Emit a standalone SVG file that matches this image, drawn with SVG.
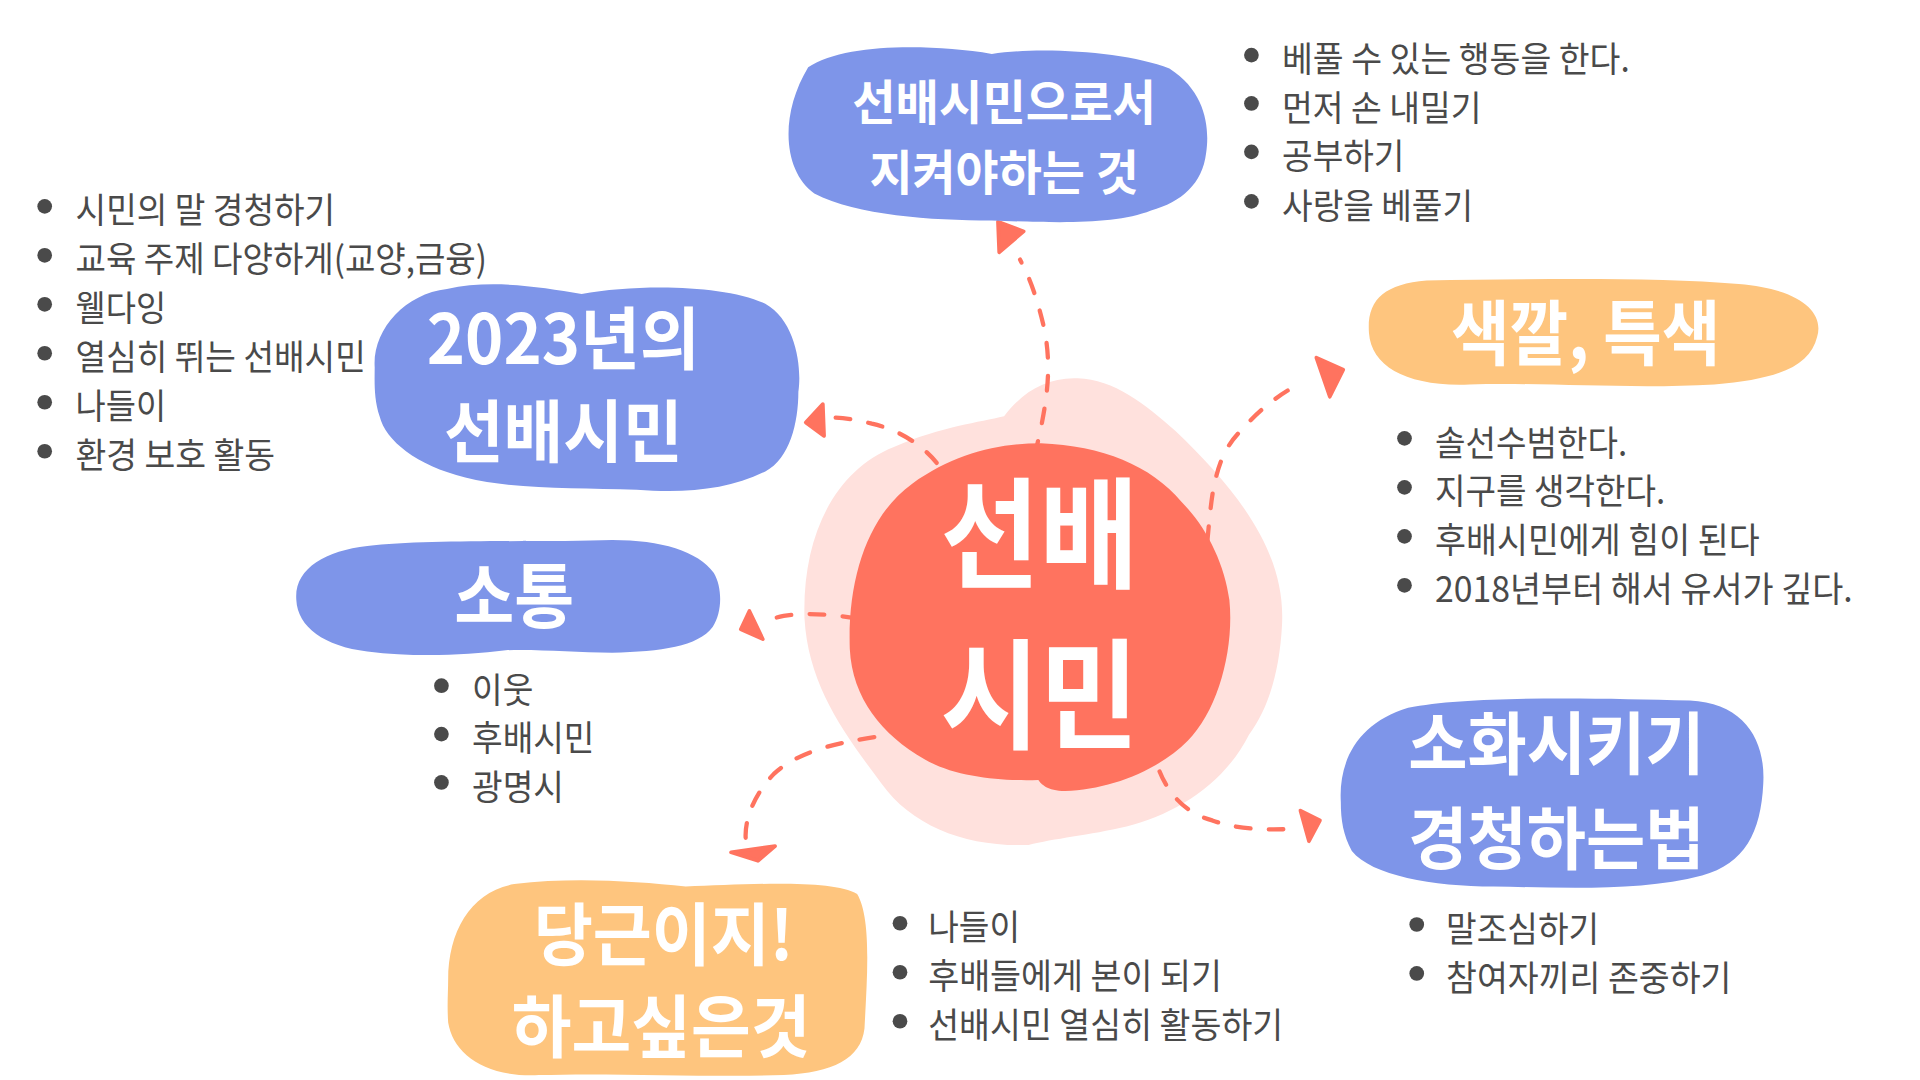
<svg xmlns="http://www.w3.org/2000/svg" width="1920" height="1080" viewBox="0 0 1920 1080">
<style>
.blue{fill:#7E95E9}
.orange{fill:#FEC57E}
.title{font-family:"Noto Sans CJK KR","Noto Sans",sans-serif;font-weight:700;fill:#FFFFFF;text-anchor:middle}
.item{font-family:"Noto Sans CJK KR","Noto Sans",sans-serif;font-weight:400;font-size:29px;fill:#4A4A4A}
.dot{fill:#4A4A4A}
.conn{fill:none;stroke:#FF735F;stroke-width:3.5;stroke-dasharray:12 15;stroke-linecap:round}
.head{fill:#FF735F;stroke:#FF735F;stroke-width:3;stroke-linejoin:round}
</style>
<rect width="1920" height="1080" fill="#FFFFFF"/>
<g transform="scale(1.22449)">
<g id="center-bg">
<path d="M 657,505 C 655,440 680,385 730,365 C 770,348 800,345 820,340 C 835,320 855,308 880,309 C 910,310 935,330 960,352 C 1010,400 1050,450 1047,510 C 1045,550 1035,580 1020,600 C 1000,640 960,665 920,675 C 890,682 860,685 840,690 C 790,692 745,675 720,640 C 690,600 660,560 657,505 Z" fill="#FFE1DD"/>
</g>
<g id="connectors">
<path class="conn" d="M 845,372 C 855,330 860,300 852,265 C 846,240 840,225 833,212"/>
<polygon class="head" points="815,181 836,189 816,206"/>
<path class="conn" d="M 765,378 C 750,360 730,350 712,346 C 700,343 690,341 680,341"/>
<polygon class="head" points="672,330 658,345 673,356"/>
<path class="conn" d="M 986,442 C 988,420 990,400 993,390 C 998,370 1005,360 1015,350 C 1030,333 1045,322 1062,313"/>
<polygon class="head" points="1075,292 1097,302 1086,324"/>
<path class="conn" d="M 700,505 C 680,502 660,500 640,503 C 635,504 632,505 628,506"/>
<polygon class="head" points="612,499 605,514 623,522"/>
<path class="conn" d="M 714,602 C 680,607 650,615 632,632 C 615,650 608,670 609,685"/>
<polygon class="head" points="597,696 633,691 619,703"/>
<path class="conn" d="M 947,630 C 955,650 970,665 990,670 C 1010,677 1030,678 1055,677"/>
<polygon class="head" points="1062,662 1078,670 1069,687"/>
</g>
<g id="center">
<path d="M 694,530 C 692,470 710,420 745,395 C 780,370 815,362 850,362 C 900,364 940,380 965,410 C 985,430 1000,460 1004,490 C 1008,530 995,580 970,605 C 945,630 905,645 870,646 C 855,646 850,640 848,637 C 820,638 780,635 755,620 C 720,600 696,570 694,530 Z" fill="#FF735F"/>
<text class="title" x="849" y="473" font-size="98" textLength="162" lengthAdjust="spacingAndGlyphs">선배</text>
<text class="title" x="849" y="604" font-size="98" textLength="162" lengthAdjust="spacingAndGlyphs">시민</text>
</g>
<g id="node-duty">
<path class="blue" d="M 660,55 C 690,35 760,36 810,44 C 850,38 920,42 955,56 C 985,75 988,105 985,125 C 982,150 965,165 940,172 C 910,184 860,182 810,180 C 760,180 700,176 665,158 C 640,140 636,95 660,55 Z"/>
<text class="title" x="820" y="98" font-size="39" textLength="248" lengthAdjust="spacingAndGlyphs">선배시민으로서</text>
<text class="title" x="820" y="155" font-size="39" textLength="220" lengthAdjust="spacingAndGlyphs">지켜야하는 것</text>
<circle class="dot" cx="1022" cy="45" r="6"/>
<text class="item" x="1047" y="59" textLength="284" lengthAdjust="spacingAndGlyphs">베풀 수 있는 행동을 한다.</text>
<circle class="dot" cx="1022" cy="84.5" r="6"/>
<text class="item" x="1047" y="98.5" textLength="163" lengthAdjust="spacingAndGlyphs">먼저 손 내밀기</text>
<circle class="dot" cx="1022" cy="124" r="6"/>
<text class="item" x="1047" y="138" textLength="100" lengthAdjust="spacingAndGlyphs">공부하기</text>
<circle class="dot" cx="1022" cy="164.5" r="6"/>
<text class="item" x="1047" y="178.5" textLength="156" lengthAdjust="spacingAndGlyphs">사랑을 베풀기</text>
</g>
<g id="node-2023">
<path class="blue" d="M 306,300 C 304,270 330,240 365,236 C 400,228 440,234 475,240 C 520,232 590,232 625,248 C 650,262 655,300 652,320 C 652,345 645,375 625,385 C 595,400 560,403 520,400 C 470,398 420,400 380,390 C 340,380 315,360 310,340 C 305,325 306,310 306,300 Z"/>
<text class="title" x="460" y="297" font-size="56" textLength="223" lengthAdjust="spacingAndGlyphs">2023년의</text>
<text class="title" x="460" y="373" font-size="56" textLength="195" lengthAdjust="spacingAndGlyphs">선배시민</text>
<circle class="dot" cx="36.5" cy="168.5" r="6"/>
<text class="item" x="61.7" y="182.5" textLength="212" lengthAdjust="spacingAndGlyphs">시민의 말 경청하기</text>
<circle class="dot" cx="36.5" cy="208.5" r="6"/>
<text class="item" x="61.7" y="222.5" textLength="336" lengthAdjust="spacingAndGlyphs">교육 주제 다양하게(교양,금융)</text>
<circle class="dot" cx="36.5" cy="248.5" r="6"/>
<text class="item" x="61.7" y="262.5" textLength="74" lengthAdjust="spacingAndGlyphs">웰다잉</text>
<circle class="dot" cx="36.5" cy="288.5" r="6"/>
<text class="item" x="61.7" y="302.5" textLength="237" lengthAdjust="spacingAndGlyphs">열심히 뛰는 선배시민</text>
<circle class="dot" cx="36.5" cy="328.5" r="6"/>
<text class="item" x="61.7" y="342.5" textLength="74" lengthAdjust="spacingAndGlyphs">나들이</text>
<circle class="dot" cx="36.5" cy="368.5" r="6"/>
<text class="item" x="61.7" y="382.5" textLength="163" lengthAdjust="spacingAndGlyphs">환경 보호 활동</text>
</g>
<g id="node-color">
<path class="orange" d="M 1118,272 C 1116,245 1130,232 1165,229 C 1250,228 1350,226 1420,232 C 1470,236 1490,255 1484,275 C 1478,300 1450,310 1400,314 C 1330,318 1260,312 1200,314 C 1150,316 1120,300 1118,272 Z"/>
<text class="title" x="1295" y="293" font-size="58" textLength="220" lengthAdjust="spacingAndGlyphs">색깔, 특색</text>
<circle class="dot" cx="1147" cy="358" r="6"/>
<text class="item" x="1172" y="372" textLength="157" lengthAdjust="spacingAndGlyphs">솔선수범한다.</text>
<circle class="dot" cx="1147" cy="398" r="6"/>
<text class="item" x="1172" y="412" textLength="188" lengthAdjust="spacingAndGlyphs">지구를 생각한다.</text>
<circle class="dot" cx="1147" cy="438" r="6"/>
<text class="item" x="1172" y="452" textLength="265" lengthAdjust="spacingAndGlyphs">후배시민에게 힘이 된다</text>
<circle class="dot" cx="1147" cy="478" r="6"/>
<text class="item" x="1172" y="492" textLength="341" lengthAdjust="spacingAndGlyphs">2018년부터 해서 유서가 깊다.</text>
</g>
<g id="node-talk">
<path class="blue" d="M 242,490 C 240,465 265,450 300,446 C 350,440 450,443 500,441 C 540,441 570,450 583,468 C 590,480 590,500 582,512 C 570,528 540,532 500,533 C 470,533 440,530 413,531 C 380,535 340,537 300,532 C 265,528 243,512 242,490 Z"/>
<text class="title" x="420" y="508" font-size="58" textLength="98" lengthAdjust="spacingAndGlyphs">소통</text>
<circle class="dot" cx="360.5" cy="560" r="6"/>
<text class="item" x="385.5" y="574" textLength="50" lengthAdjust="spacingAndGlyphs">이웃</text>
<circle class="dot" cx="360.5" cy="599.5" r="6"/>
<text class="item" x="385.5" y="613.5" textLength="100" lengthAdjust="spacingAndGlyphs">후배시민</text>
<circle class="dot" cx="360.5" cy="639" r="6"/>
<text class="item" x="385.5" y="653" textLength="75" lengthAdjust="spacingAndGlyphs">광명시</text>
</g>
<g id="node-listen">
<path class="blue" d="M 1095,655 C 1093,620 1110,590 1150,578 C 1200,568 1300,570 1380,572 C 1425,574 1442,605 1440,640 C 1438,680 1425,705 1390,715 C 1340,728 1280,725 1220,724 C 1170,724 1120,715 1104,695 C 1097,682 1095,670 1095,655 Z"/>
<text class="title" x="1271" y="628" font-size="56" textLength="242" lengthAdjust="spacingAndGlyphs">소화시키기</text>
<text class="title" x="1271" y="706" font-size="56" textLength="242" lengthAdjust="spacingAndGlyphs">경청하는법</text>
<circle class="dot" cx="1157" cy="755" r="6"/>
<text class="item" x="1181" y="769" textLength="125" lengthAdjust="spacingAndGlyphs">말조심하기</text>
<circle class="dot" cx="1157" cy="795" r="6"/>
<text class="item" x="1181" y="809" textLength="233" lengthAdjust="spacingAndGlyphs">참여자끼리 존중하기</text>
</g>
<g id="node-want">
<path class="orange" d="M 366,800 C 366,760 385,728 420,722 C 470,716 520,720 560,724 C 610,722 680,718 700,730 C 712,750 708,800 706,840 C 703,865 680,876 640,878 C 580,880 500,876 440,878 C 395,880 370,860 366,835 C 365,820 366,810 366,800 Z"/>
<text class="title" x="542" y="784" font-size="56" textLength="212" lengthAdjust="spacingAndGlyphs">당근이지!</text>
<text class="title" x="540" y="859" font-size="56" textLength="244" lengthAdjust="spacingAndGlyphs">하고싶은것</text>
<circle class="dot" cx="735" cy="754" r="6"/>
<text class="item" x="758" y="768" textLength="75" lengthAdjust="spacingAndGlyphs">나들이</text>
<circle class="dot" cx="735" cy="794" r="6"/>
<text class="item" x="758" y="808" textLength="240" lengthAdjust="spacingAndGlyphs">후배들에게 본이 되기</text>
<circle class="dot" cx="735" cy="834" r="6"/>
<text class="item" x="758" y="848" textLength="290" lengthAdjust="spacingAndGlyphs">선배시민 열심히 활동하기</text>
</g>
</g>
</svg>
